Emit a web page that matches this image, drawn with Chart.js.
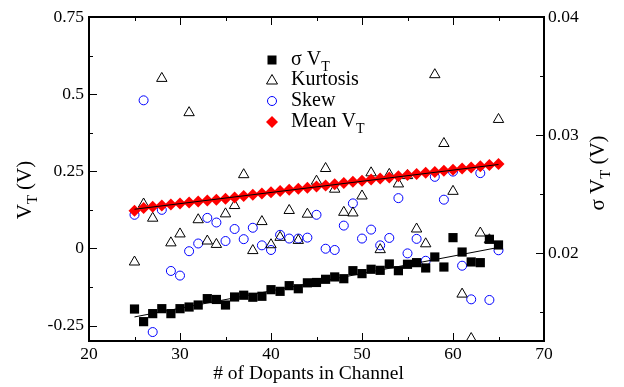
<!DOCTYPE html>
<html>
<head>
<meta charset="utf-8">
<script src="https://cdn.jsdelivr.net/npm/chart.js@4.4.1/dist/chart.umd.min.js"></script>
<style>
html, body { margin: 0; padding: 0; background: #fff; }
#wrap { width: 624px; height: 387px; }
</style>
</head>
<body>
<div id="wrap"><canvas id="vtChart" width="624" height="387"></canvas></div>
<script>
// number of dopants in channel
const dopants = [25, 26, 27, 28, 29, 30, 31, 32, 33, 34, 35, 36, 37, 38, 39, 40, 41, 42, 43, 44, 45,
                 46, 47, 48, 49, 50, 51, 52, 53, 54, 55, 56, 57, 58, 59, 60, 61, 62, 63, 64, 65];

// sigma V_T (right axis, V)
const sigmaVt = [0.01525, 0.01418, 0.01486, 0.01528, 0.01486, 0.01528, 0.01542, 0.01559, 0.01613, 0.01606,
                 0.01559, 0.01627, 0.01642, 0.01625, 0.01633, 0.01689, 0.01675, 0.01723, 0.01697, 0.01747,
                 0.01750, 0.01777, 0.01797, 0.01782, 0.01850, 0.01825, 0.01862, 0.01853, 0.01907, 0.01850,
                 0.01904, 0.01918, 0.01873, 0.01966, 0.01881, 0.02130, 0.02008, 0.01924, 0.01918, 0.02116,
                 0.02068];

const kurtosis = [-0.044, 0.144, 0.098, 0.551, 0.018, 0.047, 0.440, 0.093, 0.024, 0.013,
                  0.112, 0.139, 0.239, -0.007, 0.087, 0.012, 0.036, 0.123, 0.026, 0.111,
                  0.218, 0.259, 0.192, 0.117, 0.115, 0.170, 0.245, -0.004, 0.240, 0.209,
                  0.236, 0.063, 0.015, 0.563, 0.340, 0.185, -0.148, -0.292, 0.050, 0.028,
                  0.418];

const skew = [0.109, 0.480, -0.271, 0.125, -0.073, -0.088, -0.009, 0.016, 0.099, 0.084,
              0.024, 0.063, 0.030, 0.067, 0.010, -0.005, 0.044, 0.032, 0.032, 0.035,
              0.109, -0.001, -0.005, 0.074, 0.146, 0.032, 0.061, 0.010, 0.034, 0.163,
              -0.016, 0.031, -0.040, 0.232, 0.158, 0.249, -0.056, -0.165, 0.244, -0.167,
              -0.006];

const meanVt = [0.122, 0.131, 0.135, 0.139, 0.142, 0.146, 0.149, 0.152, 0.155, 0.158,
                0.161, 0.165, 0.170, 0.174, 0.178, 0.182, 0.186, 0.190, 0.193, 0.197,
                0.201, 0.204, 0.208, 0.212, 0.216, 0.219, 0.223, 0.227, 0.230, 0.234,
                0.238, 0.241, 0.245, 0.248, 0.252, 0.255, 0.259, 0.262, 0.266, 0.270,
                0.274];

// linear fits drawn as thin black lines
const fitX = [25, 65];
const meanFit = [0.127, 0.272];
const sigmaFit = [0.01458, 0.02047];

// axis ticks
const xTicks = [20, 30, 40, 50, 60, 70];
const xMinor = [25, 35, 45, 55, 65];
const leftTicks = [-0.25, 0, 0.25, 0.5, 0.75];
const leftMinor = [-0.125, 0.125, 0.375, 0.625];
const rightTicks = [0.02, 0.03, 0.04];
const rightMinor = [0.015, 0.025, 0.035];

const FONT = '"Liberation Serif", "DejaVu Serif", serif';

function pts(xs, ys) {
    return xs.map((x, i) => ({ x: x, y: ys[i] }));
}

// text with subscripts: parts = [[text, isSub], ...]
function drawParts(ctx, parts, x, y, size, align) {
    let total = 0;
    parts.forEach(p => {
        ctx.font = (p[1] ? size * 0.7 : size) + 'px ' + FONT;
        total += ctx.measureText(p[0]).width;
    });
    let cx = align === 'center' ? x - total / 2 : x;
    ctx.textBaseline = 'middle';
    ctx.textAlign = 'left';
    parts.forEach(p => {
        const s = p[1] ? size * 0.7 : size;
        ctx.font = s + 'px ' + FONT;
        ctx.fillText(p[0], cx, p[1] ? y + size * 0.38 : y);
        cx += ctx.measureText(p[0]).width;
    });
}

const framePlugin = {
    id: 'frame',
    afterDraw(chart) {
        const ctx = chart.ctx;
        const a = chart.chartArea;
        const sx = chart.scales.x, sy = chart.scales.y, sy2 = chart.scales.y2;
        ctx.save();
        ctx.strokeStyle = '#000';
        ctx.lineWidth = 1;
        ctx.beginPath();
        xTicks.forEach(v => {
            const px = Math.round(sx.getPixelForValue(v)) + 0.5;
            ctx.moveTo(px, a.bottom); ctx.lineTo(px, a.bottom - 8);
            ctx.moveTo(px, a.top); ctx.lineTo(px, a.top + 8);
        });
        xMinor.forEach(v => {
            const px = Math.round(sx.getPixelForValue(v)) + 0.5;
            ctx.moveTo(px, a.bottom); ctx.lineTo(px, a.bottom - 4);
            ctx.moveTo(px, a.top); ctx.lineTo(px, a.top + 4);
        });
        leftTicks.forEach(v => {
            const py = Math.round(sy.getPixelForValue(v)) + 0.5;
            ctx.moveTo(a.left, py); ctx.lineTo(a.left + 8, py);
        });
        leftMinor.forEach(v => {
            const py = Math.round(sy.getPixelForValue(v)) + 0.5;
            ctx.moveTo(a.left, py); ctx.lineTo(a.left + 4, py);
        });
        rightTicks.forEach(v => {
            const py = Math.round(sy2.getPixelForValue(v)) + 0.5;
            ctx.moveTo(a.right, py); ctx.lineTo(a.right - 8, py);
        });
        rightMinor.forEach(v => {
            const py = Math.round(sy2.getPixelForValue(v)) + 0.5;
            ctx.moveTo(a.right, py); ctx.lineTo(a.right - 4, py);
        });
        ctx.stroke();

        ctx.lineWidth = 2;
        ctx.strokeRect(a.left, a.top, a.right - a.left, a.bottom - a.top);

        // axis titles
        ctx.fillStyle = '#000';
        ctx.textAlign = 'center';
        ctx.textBaseline = 'middle';
        ctx.font = '19.5px ' + FONT;
        ctx.fillText('# of Dopants in Channel', (a.left + a.right) / 2 - 8, 374);

        ctx.save();
        ctx.translate(25, 190);
        ctx.rotate(-Math.PI / 2);
        drawParts(ctx, [['V', 0], ['T', 1], [' (V)', 0]], 0, 0, 21, 'center');
        ctx.restore();

        ctx.save();
        ctx.translate(598, 173);
        ctx.rotate(-Math.PI / 2);
        drawParts(ctx, [['\u03c3 V', 0], ['T', 1], [' (V)', 0]], 0, 0, 21, 'center');
        ctx.restore();

        // legend
        const lx = 272, tx = 291;
        const rows = [60, 80, 101, 122];
        ctx.fillStyle = '#000';
        ctx.fillRect(lx - 4.5, rows[0] - 4.5, 9, 9);

        ctx.beginPath();
        ctx.moveTo(lx, rows[1] - 5.5);
        ctx.lineTo(lx + 5.5, rows[1] + 4);
        ctx.lineTo(lx - 5.5, rows[1] + 4);
        ctx.closePath();
        ctx.lineWidth = 1;
        ctx.strokeStyle = '#000';
        ctx.stroke();

        ctx.beginPath();
        ctx.arc(lx, rows[2], 4.5, 0, Math.PI * 2);
        ctx.strokeStyle = '#0000ff';
        ctx.stroke();

        ctx.beginPath();
        ctx.moveTo(lx, rows[3] - 6);
        ctx.lineTo(lx + 6, rows[3]);
        ctx.lineTo(lx, rows[3] + 6);
        ctx.lineTo(lx - 6, rows[3]);
        ctx.closePath();
        ctx.fillStyle = '#ff0000';
        ctx.fill();

        ctx.fillStyle = '#000';
        drawParts(ctx, [['\u03c3 V', 0], ['T', 1]], tx, rows[0], 20, 'left');
        drawParts(ctx, [['Kurtosis', 0]], tx, rows[1], 20, 'left');
        drawParts(ctx, [['Skew', 0]], tx, rows[2], 20, 'left');
        drawParts(ctx, [['Mean V', 0], ['T', 1]], tx, rows[3], 20, 'left');
        ctx.restore();
    }
};

const tickFont = { family: FONT, size: 17.5 };

new Chart(document.getElementById('vtChart').getContext('2d'), {
    type: 'scatter',
    data: {
        datasets: [
            {
                type: 'line', label: 'mean fit', data: pts(fitX, meanFit), yAxisID: 'y',
                borderColor: '#000', borderWidth: 1, pointRadius: 0, fill: false
            },
            {
                type: 'line', label: 'sigma fit', data: pts(fitX, sigmaFit), yAxisID: 'y2',
                borderColor: '#000', borderWidth: 1, pointRadius: 0, fill: false
            },
            {
                label: 'σ VT', data: pts(dopants, sigmaVt), yAxisID: 'y2',
                pointStyle: 'rect', pointRadius: 6.5, backgroundColor: '#000', borderColor: '#000', borderWidth: 0
            },
            {
                label: 'Mean VT', data: pts(dopants, meanVt), yAxisID: 'y',
                pointStyle: 'rectRot', pointRadius: 6, backgroundColor: '#ff0000', borderColor: '#ff0000', borderWidth: 0
            },
            {
                label: 'Kurtosis', data: pts(dopants, kurtosis), yAxisID: 'y',
                pointStyle: 'triangle', pointRadius: 6, backgroundColor: 'rgba(255,255,255,0)', borderColor: '#000', borderWidth: 1
            },
            {
                label: 'Skew', data: pts(dopants, skew), yAxisID: 'y',
                pointStyle: 'circle', pointRadius: 4.5, backgroundColor: 'rgba(255,255,255,0)', borderColor: '#0000ff', borderWidth: 1
            }
        ]
    },
    options: {
        responsive: false,
        animation: false,
        events: [],
        layout: { padding: { top: 17, left: 0, right: 0, bottom: 0 } },
        plugins: { legend: { display: false }, tooltip: { enabled: false } },
        scales: {
            x: {
                type: 'linear', min: 20, max: 70,
                grid: { display: false, drawTicks: false },
                border: { display: false },
                afterBuildTicks: s => { s.ticks = xTicks.map(v => ({ value: v })); },
                afterFit: s => { s.height = 46; },
                ticks: { color: '#000', font: tickFont, padding: 3, maxRotation: 0, autoSkip: false }
            },
            y: {
                type: 'linear', position: 'left', min: -0.3, max: 0.75,
                grid: { display: false, drawTicks: false },
                border: { display: false },
                afterBuildTicks: s => { s.ticks = leftTicks.map(v => ({ value: v })); },
                afterFit: s => { s.width = 89; },
                ticks: { color: '#000', font: tickFont, padding: 5, callback: v => String(v) }
            },
            y2: {
                type: 'linear', position: 'right', min: 0.01254, max: 0.04,
                grid: { display: false, drawTicks: false },
                border: { display: false },
                afterBuildTicks: s => { s.ticks = rightTicks.map(v => ({ value: v })); },
                afterFit: s => { s.width = 80; },
                ticks: { color: '#000', font: tickFont, padding: 4, callback: v => v.toFixed(2) }
            }
        }
    },
    plugins: [framePlugin]
});
</script>
</body>
</html>
